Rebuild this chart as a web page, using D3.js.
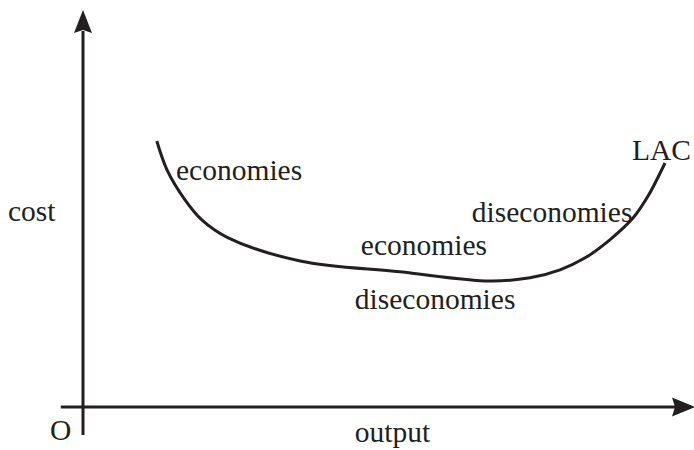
<!DOCTYPE html>
<html>
<head>
<meta charset="utf-8">
<script src="https://cdn.jsdelivr.net/npm/d3@7"></script>
<style>
  html, body { margin: 0; padding: 0; background: #fff; }
  svg { display: block; }
  text { font-family: "Liberation Serif", "Times New Roman", serif; font-size: 29.5px; fill: #231f20; }
</style>
</head>
<body>
<div id="chart"></div>
<script>
const width = 694, height = 450;
const ink = "#231f20";

// LAC curve (output, cost on a 0..100 scale)
const output = [12.3, 14.0, 17.0, 19.8, 24.2, 36.2, 52.8, 67.8, 74.5, 79.5, 83.7, 87.8, 91.7, 94.2, 97.0];
const cost   = [66.5, 59.3, 51.8, 46.8, 42.3, 36.5, 33.8, 31.5, 32.3, 34.3, 37.3, 41.8, 47.3, 52.8, 61.0];

// annotation labels
const labelText = ["cost", "economies", "diseconomies", "economies", "diseconomies", "LAC", "O", "output"];
const labelX    = [-12.5, 15.5, 64.8, 46.3, 45.3, 91.5, -5.5, 45.3];
const labelY    = [46.5, 56.8, 46.3, 38.0, 24.5, 61.8, -8.3, -8.8];

const x = d3.scaleLinear().domain([0, 100]).range([83, 683]);
const y = d3.scaleLinear().domain([0, 100]).range([407, 7]);

const svg = d3.select("#chart").append("svg")
  .attr("width", width)
  .attr("height", height);

// axes
svg.append("line")
  .attr("x1", x(0)).attr("x2", x(0))
  .attr("y1", y(-7)).attr("y2", y(94))
  .attr("stroke", ink).attr("stroke-width", 3);

svg.append("line")
  .attr("x1", x(-3.7)).attr("x2", x(99))
  .attr("y1", y(0)).attr("y2", y(0))
  .attr("stroke", ink).attr("stroke-width", 3);

// arrow heads
const vx = x(0), vy = y(99.25);
svg.append("path")
  .attr("d", `M${vx},${vy} L${vx + 9},${vy + 23} L${vx},${vy + 20} L${vx - 9},${vy + 23} Z`)
  .attr("fill", ink);

const hx = x(102), hy = y(0);
svg.append("path")
  .attr("d", `M${hx},${hy} L${hx - 23},${hy - 9.5} L${hx - 20},${hy} L${hx - 23},${hy + 9.5} Z`)
  .attr("fill", ink);

// LAC curve
const line = d3.line()
  .x((d, i) => x(output[i]))
  .y((d, i) => y(cost[i]))
  .curve(d3.curveCatmullRom.alpha(0.5));

svg.append("path")
  .datum(output)
  .attr("d", line)
  .attr("fill", "none")
  .attr("stroke", ink)
  .attr("stroke-width", 3);

// labels
svg.selectAll("text.lbl")
  .data(labelText)
  .enter()
  .append("text")
  .attr("class", "lbl")
  .attr("x", (d, i) => x(labelX[i]))
  .attr("y", (d, i) => y(labelY[i]))
  .text(d => d);
</script>
</body>
</html>
